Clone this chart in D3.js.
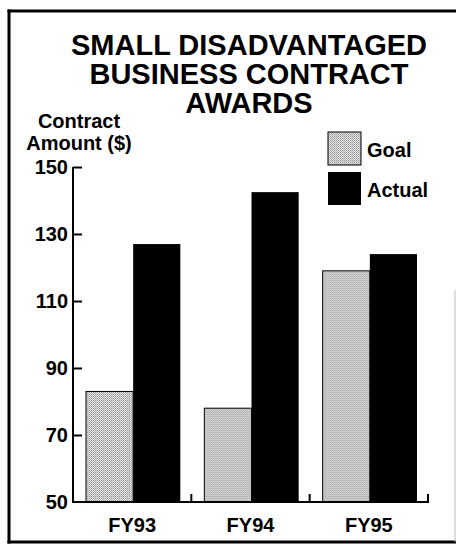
<!DOCTYPE html>
<html>
<head>
<meta charset="utf-8">
<script src="https://cdn.jsdelivr.net/npm/d3@7"></script>
<style>
  html, body { margin: 0; padding: 0; background: #fff; }
  svg { display: block; }
  text { font-family: "Liberation Sans", Arial, Helvetica, sans-serif; font-weight: bold; fill: #000; }
</style>
</head>
<body>
<svg id="chart" width="456" height="544"></svg>
<script>
// ---- data ----
const categories = ["FY93", "FY94", "FY95"];
const seriesNames = ["Goal", "Actual"];
const goalValues = [83, 78, 119];
const actualValues = [127, 142.5, 124];
const yTicks = [50, 70, 90, 110, 130, 150];
const titleLines = ["SMALL DISADVANTAGED", "BUSINESS CONTRACT", "AWARDS"];
const yTitleLines = ["Contract", "Amount ($)"];

const svg = d3.select("#chart");

// pattern for Goal
const defs = svg.append("defs");
const pat = defs.append("pattern").attr("id", "stipple")
  .attr("width", 2).attr("height", 2).attr("patternUnits", "userSpaceOnUse");
pat.append("rect").attr("width", 2).attr("height", 2).attr("fill", "#e6e6e6");
pat.append("rect").attr("x", 0).attr("y", 0).attr("width", 1).attr("height", 1).attr("fill", "#909090");
pat.append("rect").attr("x", 1).attr("y", 1).attr("width", 1).attr("height", 1).attr("fill", "#b0b0b0");

const fills = { Goal: "url(#stipple)", Actual: "#000" };

// frame
svg.append("line").attr("x1", 9).attr("x2", 9).attr("y1", 9.5).attr("y2", 543.5).attr("stroke", "#000").attr("stroke-width", 3);
svg.append("line").attr("x1", 7.5).attr("x2", 456).attr("y1", 11).attr("y2", 11).attr("stroke", "#000").attr("stroke-width", 3);
svg.append("line").attr("x1", 7.5).attr("x2", 456).attr("y1", 542).attr("y2", 542).attr("stroke", "#000").attr("stroke-width", 3);
svg.append("line").attr("x1", 455).attr("x2", 455).attr("y1", 290).attr("y2", 542).attr("stroke", "#bbb").attr("stroke-width", 1);

// title
svg.append("g").selectAll("text").data(titleLines).join("text")
  .attr("x", 249).attr("y", (d, i) => 55 + i * 29)
  .attr("text-anchor", "middle").style("font-size", "29px")
  .text(d => d);

// scales
const x0 = d3.scaleBand().domain(categories).range([73, 428]).padding(0);
const x1 = d3.scaleBand().domain(seriesNames).range([13, x0.bandwidth() - 11]).padding(0);
const y = d3.scaleLinear().domain([50, 150]).range([502, 167]);

// bars
const rows = categories.map((c, i) => ({ cat: c, Goal: goalValues[i], Actual: actualValues[i] }));
const groups = svg.append("g").selectAll("g").data(rows).join("g")
  .attr("transform", d => `translate(${x0(d.cat)},0)`);
groups.selectAll("rect").data(d => seriesNames.map(s => ({ s, v: d[s] }))).join("rect")
  .attr("x", d => x1(d.s))
  .attr("y", d => y(d.v))
  .attr("width", x1.bandwidth())
  .attr("height", d => y(50) - y(d.v))
  .attr("fill", d => fills[d.s])
  .attr("stroke", "#000")
  .attr("stroke-width", d => d.s === "Goal" ? 1 : 0);

// y axis
const yAxis = d3.axisRight(y).tickValues(yTicks).tickSize(9).tickFormat("");
const ya = svg.append("g").attr("transform", "translate(73,0)").call(yAxis);
ya.select(".domain").attr("d", `M0,${y(150)}V${y(50)}`).attr("stroke-width", 2);
ya.selectAll(".tick line").attr("stroke-width", 2);
ya.selectAll(".tick").filter(d => d === 50).remove();
svg.append("g").selectAll("text").data(yTicks).join("text")
  .attr("x", 68).attr("y", d => y(d)).attr("dy", "0.36em")
  .attr("text-anchor", "end").style("font-size", "20px")
  .text(d => d);

// x axis
const xAxis = d3.axisBottom(x0).tickSize(0).tickFormat("");
const xa = svg.append("g").attr("transform", `translate(0,${y(50)})`).call(xAxis);
xa.select(".domain").attr("d", `M72,0H429`).attr("stroke-width", 2);
const bounds = categories.map(c => x0(c) + x0.bandwidth());
svg.append("g").selectAll("line").data(bounds).join("line")
  .attr("x1", d => d).attr("x2", d => d)
  .attr("y1", y(50) + 1).attr("y2", y(50) - 8)
  .attr("stroke", "#000").attr("stroke-width", 2);
svg.append("g").selectAll("text").data(categories).join("text")
  .attr("x", d => x0(d) + x0.bandwidth() / 2).attr("y", 532)
  .attr("text-anchor", "middle").style("font-size", "20px")
  .text(d => d);

// y title
svg.append("g").selectAll("text").data(yTitleLines).join("text")
  .attr("x", 79).attr("y", (d, i) => 128 + i * 22)
  .attr("text-anchor", "middle").style("font-size", "20px")
  .text(d => d);

// legend
const leg = svg.append("g").selectAll("g").data(seriesNames).join("g")
  .attr("transform", (d, i) => `translate(328,${132 + i * 40})`);
leg.append("rect").attr("width", 33).attr("height", 33)
  .attr("fill", d => fills[d]).attr("stroke", "#000").attr("stroke-width", d => d === "Goal" ? 1 : 0);
leg.append("text").attr("x", 39).attr("y", 25).style("font-size", "20px").text(d => d);
</script>
</body>
</html>
